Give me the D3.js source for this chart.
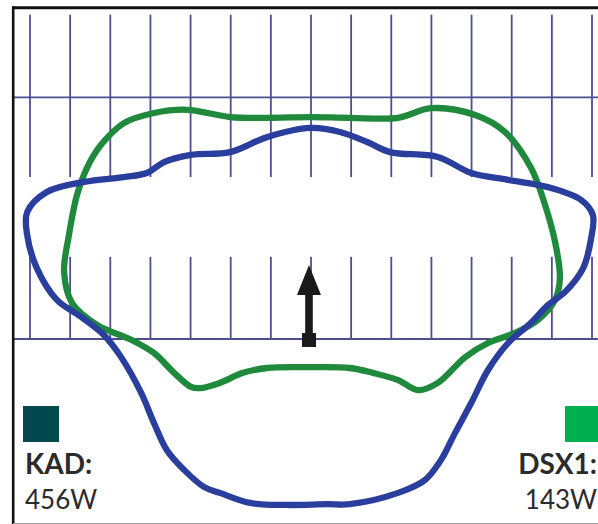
<!DOCTYPE html>
<html>
<head>
<meta charset="utf-8">
<script src="https://cdn.jsdelivr.net/npm/d3@7"></script>
<style>
  html, body { margin: 0; padding: 0; background: #fff; }
  svg { display: block; }
  text { font-family: Lato, "Open Sans", sans-serif; fill: #2b2b2b; }
</style>
</head>
<body>
<svg id="chart" width="598" height="524"></svg>
<script>
// Grid columns (one per unit) and the two reference rows
const gridCols = d3.range(0, 15);
const gridRows = [0, 6];

// KAD distribution outline (grid units, clockwise from the top)
const kadX = [6.98, 7.72, 8.40, 8.97, 10.16, 10.99, 11.91, 12.90, 13.73, 14.02, 13.98, 13.78, 13.33, 12.90, 12.48, 11.91, 11.41, 10.99, 10.59, 10.24, 9.84, 9.17, 7.97, 7.40, 6.40, 5.48, 4.73, 4.33, 3.84, 3.41, 3.09, 2.77, 2.27, 1.84, 1.27, 0.67, 0.17, -0.07, -0.07, 0.42, 1.35, 2.34, 2.91, 3.34, 4.01, 4.98, 5.90];
const kadY = [5.24, 5.14, 4.89, 4.64, 4.52, 4.12, 3.95, 3.77, 3.45, 3.08, 2.51, 1.76, 1.17, 0.84, 0.40, -0.10, -0.77, -1.59, -2.33, -3.00, -3.50, -3.82, -4.10, -4.10, -4.12, -4.07, -3.82, -3.67, -3.25, -2.76, -2.09, -1.34, -0.45, 0.10, 0.55, 0.97, 1.76, 2.58, 3.15, 3.65, 3.90, 4.02, 4.12, 4.39, 4.57, 4.64, 5.01];

// DSX1 distribution outline
const dsxX = [6.98, 7.97, 9.17, 9.99, 11.09, 11.83, 12.48, 12.83, 13.08, 13.20, 13.08, 12.65, 12.08, 11.41, 10.84, 10.16, 9.67, 9.17, 8.54, 7.97, 6.98, 5.90, 5.31, 4.73, 4.23, 4.01, 3.59, 3.09, 2.52, 1.67, 1.05, 0.85, 0.97, 1.17, 1.42, 1.77, 2.34, 3.09, 3.91, 4.98, 5.90];
const dsxY = [5.51, 5.49, 5.49, 5.73, 5.56, 5.14, 4.25, 3.33, 2.41, 1.51, 0.97, 0.47, 0.15, -0.10, -0.45, -1.09, -1.27, -1.02, -0.84, -0.72, -0.70, -0.72, -0.84, -1.09, -1.22, -1.19, -0.84, -0.35, -0.02, 0.35, 0.89, 1.66, 2.58, 3.57, 4.25, 4.82, 5.36, 5.61, 5.69, 5.51, 5.49];

// Direction marker
const arrowX = 6.95;
const arrowLen = 1.84;

// Legend entries
const legendNames = ["KAD:", "DSX1:"];
const legendWatts = ["456W", "143W"];
const legendColors = ["#03474f", "#00b050"];

const svg = d3.select("#chart");
const x = d3.scaleLinear().domain([0, 14]).range([30, 592]);
const y = d3.scaleLinear().domain([0, 6]).range([339, 97.3]);

const gridColor = "#4d4d8f";
const g = svg.append("g");

// Upper tick band (crosses row 6) and lower tick band (stands on row 0)
g.selectAll("line.up").data(gridCols).join("line")
  .attr("x1", d => x(d)).attr("x2", d => x(d))
  .attr("y1", y(8.05)).attr("y2", y(4.02))
  .attr("stroke", gridColor).attr("stroke-width", 1.8);
g.selectAll("line.low").data(gridCols).join("line")
  .attr("x1", d => x(d)).attr("x2", d => x(d))
  .attr("y1", y(2.04)).attr("y2", y(0))
  .attr("stroke", gridColor).attr("stroke-width", 1.8);
g.selectAll("line.row").data(gridRows).join("line")
  .attr("x1", 14).attr("x2", 598)
  .attr("y1", d => y(d)).attr("y2", d => y(d))
  .attr("stroke", gridColor).attr("stroke-width", 1.8);

// Frame
svg.append("line").attr("x1", 13).attr("x2", 598).attr("y1", 7.8).attr("y2", 7.8)
  .attr("stroke", "#111").attr("stroke-width", 3);
svg.append("line").attr("x1", 13.2).attr("x2", 13.2).attr("y1", 6.3).attr("y2", 524)
  .attr("stroke", "#111").attr("stroke-width", 2.6);
svg.append("line").attr("x1", 13).attr("x2", 598).attr("y1", 523.5).attr("y2", 523.5)
  .attr("stroke", "#a0a0a0").attr("stroke-width", 1);

// Outlines
const outline = d3.line()
  .x(d => x(d[0])).y(d => y(d[1]))
  .curve(d3.curveCatmullRomClosed.alpha(0.5));

svg.append("path")
  .attr("d", outline(d3.zip(dsxX, dsxY)))
  .attr("fill", "none").attr("stroke", "#1f8a3c").attr("stroke-width", 6.3)
  .attr("stroke-linejoin", "round");
svg.append("path")
  .attr("d", outline(d3.zip(kadX, kadY)))
  .attr("fill", "none").attr("stroke", "#2a3f9d").attr("stroke-width", 6.3)
  .attr("stroke-linejoin", "round");

// Arrow
const ax = x(arrowX), ay0 = y(0), ay1 = y(arrowLen);
const arrow = svg.append("g").attr("fill", "#1a1a1a");
arrow.append("rect").attr("x", ax - 3.8).attr("y", ay1 + 26).attr("width", 7.6).attr("height", ay0 - ay1 - 26);
arrow.append("rect").attr("x", ax - 7).attr("y", ay0 - 6).attr("width", 14).attr("height", 14);
arrow.append("path")
  .attr("d", `M${ax},${ay1} L${ax + 12},${ay1 + 30} L${ax - 12},${ay1 + 30} Z`);

// Legend
const leg = [
  { x: 23, anchor: "start", tx: 25 },
  { x: 565, anchor: "end", tx: 597 }
];
leg.forEach((L, i) => {
  svg.append("rect").attr("x", L.x).attr("y", 406).attr("width", 36).attr("height", 36)
    .attr("fill", legendColors[i]);
  svg.append("text").attr("x", L.tx).attr("y", 473.5).attr("text-anchor", L.anchor)
    .attr("font-size", 28).attr("font-weight", 700).text(legendNames[i]);
  svg.append("text").attr("x", L.tx).attr("y", 508.5).attr("text-anchor", L.anchor)
    .attr("font-size", 26).attr("font-weight", 400).text(legendWatts[i]);
});
</script>
</body>
</html>
